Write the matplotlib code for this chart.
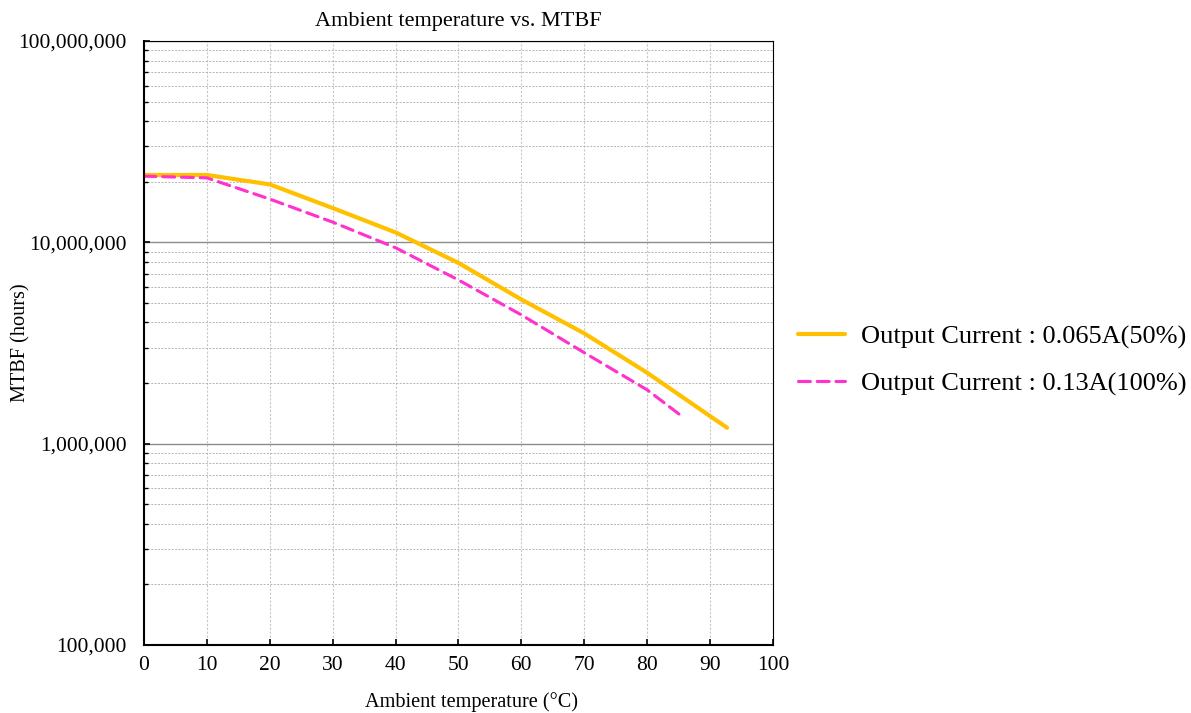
import matplotlib
matplotlib.use("Agg")
import matplotlib.pyplot as plt
import matplotlib.ticker as ticker
import numpy as np

plt.rcParams['font.family'] = ['Liberation Serif', 'DejaVu Serif']

# ambient temperature (degC) and MTBF (hours)
temp_50 = [0, 10, 20, 30, 40, 50, 60, 70, 80, 90, 92.7]
mtbf_50 = [21.6e6, 21.6e6, 19.4e6, 14.8e6, 11.2e6, 7.9e6, 5.2e6, 3.53e6, 2.25e6, 1.37e6, 1.2e6]

temp_100 = [0, 10, 20, 30, 40, 50, 60, 70, 80, 85.1]
mtbf_100 = [21.3e6, 20.9e6, 16.4e6, 12.6e6, 9.4e6, 6.5e6, 4.36e6, 2.83e6, 1.85e6, 1.4e6]

labels = ['Output Current : 0.065A(50%)', 'Output Current : 0.13A(100%)']
x_ticks = list(range(0, 101, 10))

fig = plt.figure(figsize=(11.91, 7.13), dpi=100)
ax = fig.add_axes([0.1209, 0.0954, 0.5281, 0.8471])

ax.plot(temp_50, mtbf_50, color='#FFC000', lw=3.0, label=labels[0], solid_capstyle='round')
ax.plot(temp_100, mtbf_100, color='#FF33CC', lw=2.25, linestyle=(0, (3.8, 2.2)),
        label=labels[1], dash_capstyle='round')

ax.set_yscale('log')
ax.set_ylim(1e5, 1e8)
ax.set_xlim(0, 100)
ax.set_xticks(x_ticks)
ax.yaxis.set_major_locator(ticker.LogLocator(base=10, numticks=10))
ax.yaxis.set_minor_locator(ticker.LogLocator(base=10, subs=np.arange(2, 10), numticks=20))
ax.yaxis.set_major_formatter(ticker.FuncFormatter(lambda v, p: '{:,.0f}'.format(v)))
ax.yaxis.set_minor_formatter(ticker.NullFormatter())

ax.grid(True, which='major', axis='y', color='#8c8c8c', lw=1.0, ls='-')
ax.grid(True, which='minor', axis='y', color='#b4b4b4', lw=0.7, ls=(0, (2, 1.5)))
ax.grid(True, which='major', axis='x', color='#c8c8c8', lw=0.8, ls=(0, (2, 1.5)))
ax.set_axisbelow(True)

ax.tick_params(which='both', direction='in', labelsize=15.5)
ax.tick_params(which='major', length=4, width=1.2)
ax.tick_params(which='minor', length=3, width=1.0)
ax.tick_params(axis='x', pad=8)
ax.tick_params(axis='y', pad=12.5)

for s in ['left', 'bottom']:
    ax.spines[s].set_linewidth(1.5)
for s in ['top', 'right']:
    ax.spines[s].set_linewidth(0.8)

ax.set_title('Ambient temperature vs. MTBF', fontsize=16, pad=11)
ax.set_xlabel('Ambient temperature (\u00b0C)', fontsize=14.6)
ax.set_ylabel('MTBF (hours)', fontsize=14.6)
ax.xaxis.set_label_coords(0.52, -0.078)
ax.yaxis.set_label_coords(-0.18, 0.5)

ax.legend(loc='center left', bbox_to_anchor=(1.002, 0.471), frameon=False, fontsize=19,
          handlelength=1.78, labelspacing=0.86, handletextpad=0.6)

fig.savefig('out.png', dpi=100)
